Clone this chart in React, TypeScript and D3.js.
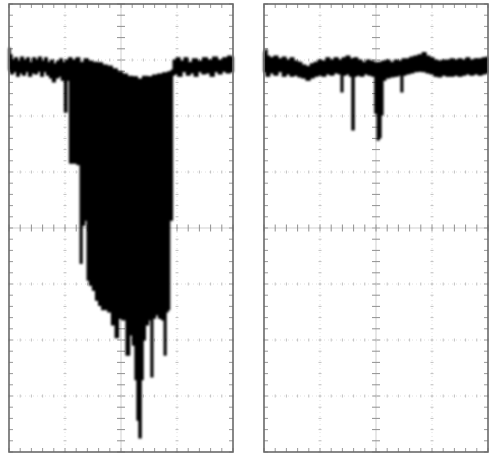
import { useRef, useEffect } from "react";
import * as d3 from "d3";

// [time in divisions, level in divisions from screen centre]
type Pt = [number, number];
// [time, from level, to level]
type Stroke = [number, number, number];

const H_DIVS = 4;
const V_DIVS = 8;
const MINOR = 5;

// left screen: upper and lower edge of the smeared trace
const leftUpper: Pt[] = [
  [0, 3.21], [0.04, 3.09], [0.07, 3.0], [0.13, 3.04], [0.18, 2.98], [0.23, 3.05],
  [0.29, 3.0], [0.34, 3.04], [0.39, 2.96], [0.45, 3.04], [0.5, 3.0], [0.55, 3.05],
  [0.61, 2.98], [0.66, 3.04], [0.71, 2.96], [0.77, 3.0], [0.82, 2.93], [0.88, 2.98],
  [0.93, 3.02], [0.98, 2.96], [1.04, 3.0], [1.09, 3.04], [1.16, 3.0], [1.23, 3.04],
  [1.3, 2.96], [1.38, 3.02], [1.45, 2.98], [1.54, 2.96], [1.63, 2.95], [1.71, 2.91],
  [1.8, 2.89], [1.89, 2.84], [1.98, 2.79], [2.07, 2.75], [2.16, 2.71], [2.25, 2.7],
  [2.34, 2.66], [2.43, 2.71], [2.52, 2.7], [2.61, 2.73], [2.7, 2.75], [2.79, 2.77],
  [2.88, 2.79], [2.91, 2.82], [2.95, 3.0], [3.02, 3.04], [3.09, 2.98], [3.16, 3.04],
  [3.23, 2.96], [3.32, 3.02], [3.41, 2.98], [3.5, 3.04], [3.59, 3.0], [3.68, 3.05],
  [3.77, 3.0], [3.86, 3.04], [3.95, 3.07], [4.0, 3.05],
];

const leftLower: Pt[] = [
  [0, 2.82], [0.05, 2.75], [0.11, 2.79], [0.16, 2.71], [0.21, 2.77], [0.27, 2.73],
  [0.32, 2.79], [0.38, 2.71], [0.43, 2.77], [0.48, 2.75], [0.54, 2.8], [0.59, 2.71],
  [0.64, 2.79], [0.7, 2.73], [0.75, 2.68], [0.8, 2.61], [0.86, 2.68], [0.91, 2.71],
  [0.96, 2.64], [1.02, 2.07], [1.05, 2.64], [1.11, 1.16], [1.18, 1.16], [1.25, 1.13],
  [1.29, -0.63], [1.32, 0.05], [1.38, 0.14], [1.41, -0.93], [1.46, -1.02], [1.52, -1.11],
  [1.57, -1.29], [1.63, -1.38], [1.68, -1.46], [1.73, -1.46], [1.8, -1.5], [1.86, -1.73],
  [1.93, -1.96], [1.98, -1.61], [2.05, -1.64], [2.13, -2.27], [2.18, -1.91], [2.23, -2.09],
  [2.27, -2.71], [2.3, -3.43], [2.34, -3.75], [2.38, -2.71], [2.41, -2.0], [2.46, -1.73],
  [2.52, -1.64], [2.55, -2.66], [2.59, -1.61], [2.64, -1.55], [2.7, -1.61], [2.75, -1.64],
  [2.79, -2.27], [2.82, -1.5], [2.86, -1.46], [2.88, 0.14], [2.91, 0.14], [2.93, 2.73],
  [2.98, 2.75], [3.05, 2.71], [3.13, 2.79], [3.2, 2.73], [3.27, 2.77], [3.34, 2.71],
  [3.41, 2.79], [3.48, 2.75], [3.55, 2.77], [3.63, 2.71], [3.7, 2.79], [3.77, 2.75],
  [3.84, 2.8], [3.91, 2.77], [4.0, 2.79],
];

// faint (grey) single sweeps below the dense part
const leftFaint: Stroke[] = [
  [1.2, 1.16, 0.86],
  [1.38, 0.12, -0.55],
  [1.75, -1.46, -1.7],
  [1.95, -1.6, -1.75],
];

// right screen
const rightUpper: Pt[] = [
  [0, 3.14], [0.04, 3.18], [0.07, 3.07], [0.14, 3.04], [0.21, 3.07], [0.29, 3.02],
  [0.36, 3.05], [0.43, 3.0], [0.5, 3.04], [0.57, 2.98], [0.64, 2.96], [0.71, 2.91],
  [0.79, 2.88], [0.86, 2.93], [0.93, 2.96], [1.0, 3.0], [1.07, 2.98], [1.14, 3.04],
  [1.21, 3.0], [1.29, 3.04], [1.36, 3.0], [1.43, 3.04], [1.5, 3.07], [1.57, 3.02],
  [1.64, 3.04], [1.71, 3.0], [1.79, 2.96], [1.86, 3.0], [1.93, 2.98], [2.0, 2.95],
  [2.07, 2.96], [2.14, 2.98], [2.21, 3.0], [2.29, 2.96], [2.36, 3.0], [2.43, 2.98],
  [2.5, 3.02], [2.57, 3.02], [2.64, 3.05], [2.71, 3.07], [2.79, 3.09], [2.86, 3.13],
  [2.93, 3.07], [3.0, 3.04], [3.07, 3.0], [3.14, 2.98], [3.21, 3.0], [3.29, 3.0],
  [3.36, 3.02], [3.43, 3.0], [3.5, 3.02], [3.57, 3.0], [3.64, 3.04], [3.71, 3.0],
  [3.79, 3.02], [3.86, 3.02], [3.93, 3.04], [4.0, 3.05],
];

const rightLower: Pt[] = [
  [0, 2.79], [0.07, 2.71], [0.14, 2.77], [0.21, 2.73], [0.29, 2.79], [0.36, 2.71],
  [0.43, 2.75], [0.5, 2.71], [0.57, 2.73], [0.64, 2.7], [0.71, 2.68], [0.79, 2.64],
  [0.86, 2.68], [0.93, 2.71], [1.0, 2.73], [1.07, 2.71], [1.14, 2.75], [1.21, 2.73],
  [1.29, 2.77], [1.36, 2.75], [1.39, 2.43], [1.43, 2.73], [1.5, 2.75], [1.55, 2.71],
  [1.59, 1.75], [1.63, 2.71], [1.68, 2.73], [1.75, 2.71], [1.82, 2.75], [1.89, 2.73],
  [1.96, 2.71], [2.0, 2.05], [2.04, 1.57], [2.07, 1.61], [2.11, 2.02], [2.14, 2.64],
  [2.21, 2.68], [2.29, 2.7], [2.36, 2.71], [2.43, 2.73], [2.46, 2.43], [2.5, 2.73],
  [2.57, 2.75], [2.64, 2.77], [2.71, 2.79], [2.79, 2.8], [2.86, 2.79], [2.93, 2.77],
  [3.0, 2.75], [3.07, 2.71], [3.14, 2.7], [3.21, 2.73], [3.29, 2.71], [3.36, 2.71],
  [3.43, 2.73], [3.5, 2.71], [3.57, 2.73], [3.64, 2.75], [3.71, 2.73], [3.79, 2.75],
  [3.86, 2.73], [3.93, 2.75], [4.0, 2.77],
];

const rightFaint: Stroke[] = [];

const screens = [
  { upper: leftUpper, lower: leftLower, faint: leftFaint },
  { upper: rightUpper, lower: rightLower, faint: rightFaint },
];

export default function App() {
  const svgRef = useRef<SVGSVGElement>(null);

  useEffect(() => {
    if (!svgRef.current) return;

    const width = 489;
    const height = 456;
    const panelW = 224;
    const panelH = 448;
    const lefts = [9, 264];
    const top = 4;

    const svg = d3.select(svgRef.current).attr("width", width).attr("height", height);
    svg.selectAll("*").remove();

    const defs = svg.append("defs");
    defs
      .append("filter")
      .attr("id", "soft")
      .append("feGaussianBlur")
      .attr("stdDeviation", 0.9);
    defs
      .append("filter")
      .attr("id", "haze")
      .append("feGaussianBlur")
      .attr("stdDeviation", 0.45);

    const x = d3.scaleLinear().domain([0, H_DIVS]).range([0, panelW]);
    const y = d3.scaleLinear().domain([-V_DIVS / 2, V_DIVS / 2]).range([panelH, 0]);

    const xMinor = d3.range(0, H_DIVS * MINOR + 1).map((i) => i / MINOR);
    const yMinor = d3
      .range(-(V_DIVS / 2) * MINOR, (V_DIVS / 2) * MINOR + 1)
      .map((i) => i / MINOR);
    const xMajor = d3.range(1, H_DIVS);
    const yMajor = d3.range(-V_DIVS / 2 + 1, V_DIVS / 2);

    const trace = d3
      .line<Pt>()
      .x((d) => x(d[0]))
      .y((d) => y(d[1]))
      .curve(d3.curveStep);

    screens.forEach((s, i) => {
      const g = svg.append("g").attr("transform", `translate(${lefts[i]},${top})`);
      const grid = g.append("g").attr("filter", "url(#haze)");

      // vertical graticule lines
      for (const v of xMajor) {
        const centre = v === H_DIVS / 2;
        grid
          .append("line")
          .attr("x1", x(v)).attr("x2", x(v))
          .attr("y1", 0).attr("y2", panelH)
          .attr("stroke", centre ? "#cfcfcf" : "#e0e0e0")
          .attr("stroke-width", 1)
          .attr("stroke-dasharray", centre ? null : "1,3");
        const len = centre ? 4 : 1.5;
        grid
          .selectAll(null)
          .data(yMinor)
          .join("line")
          .attr("x1", x(v) - len).attr("x2", x(v) + len)
          .attr("y1", (d) => y(d)).attr("y2", (d) => y(d))
          .attr("stroke", centre ? "#909090" : "#c0c0c0")
          .attr("stroke-width", 1);
      }

      // horizontal graticule lines
      for (const h of yMajor) {
        const centre = h === 0;
        grid
          .append("line")
          .attr("x1", 0).attr("x2", panelW)
          .attr("y1", y(h)).attr("y2", y(h))
          .attr("stroke", centre ? "#cfcfcf" : "#e0e0e0")
          .attr("stroke-width", 1)
          .attr("stroke-dasharray", centre ? null : "1,3");
        const len = centre ? 3.5 : 1.5;
        grid
          .selectAll(null)
          .data(xMinor)
          .join("line")
          .attr("x1", (d) => x(d)).attr("x2", (d) => x(d))
          .attr("y1", y(h) - len).attr("y2", y(h) + len)
          .attr("stroke", centre ? "#909090" : "#c0c0c0")
          .attr("stroke-width", 1);
      }

      // edge ticks
      grid
        .selectAll(null)
        .data(xMinor)
        .join("path")
        .attr("d", (d) => `M${x(d)},0V4M${x(d)},${panelH}V${panelH - 4}`)
        .attr("stroke", "#999")
        .attr("stroke-width", 1);
      grid
        .selectAll(null)
        .data(yMinor)
        .join("path")
        .attr("d", (d) => `M0,${y(d)}H4M${panelW},${y(d)}H${panelW - 4}`)
        .attr("stroke", "#999")
        .attr("stroke-width", 1);

      // the trace: outline of upper edge then lower edge back
      const outline = [...s.upper, ...s.lower.slice().reverse()];
      g.append("path")
        .attr("d", (trace(outline) || "") + "Z")
        .attr("fill", "#000")
        .attr("stroke", "#000")
        .attr("stroke-width", 1.2)
        .attr("stroke-linejoin", "round")
        .attr("filter", "url(#soft)");

      g.selectAll(null)
        .data(s.faint)
        .join("line")
        .attr("x1", (d) => x(d[0])).attr("x2", (d) => x(d[0]))
        .attr("y1", (d) => y(d[1])).attr("y2", (d) => y(d[2]))
        .attr("stroke", "#8a8a8a")
        .attr("stroke-width", 2.5)
        .attr("filter", "url(#soft)");

      // bezel
      g.append("rect")
        .attr("width", panelW)
        .attr("height", panelH)
        .attr("fill", "none")
        .attr("stroke", "#6a6a6a")
        .attr("stroke-width", 1.6)
        .attr("filter", "url(#haze)");
    });
  }, []);

  return <svg ref={svgRef} style={{ position: "absolute", left: 0, top: 0 }} />;
}
